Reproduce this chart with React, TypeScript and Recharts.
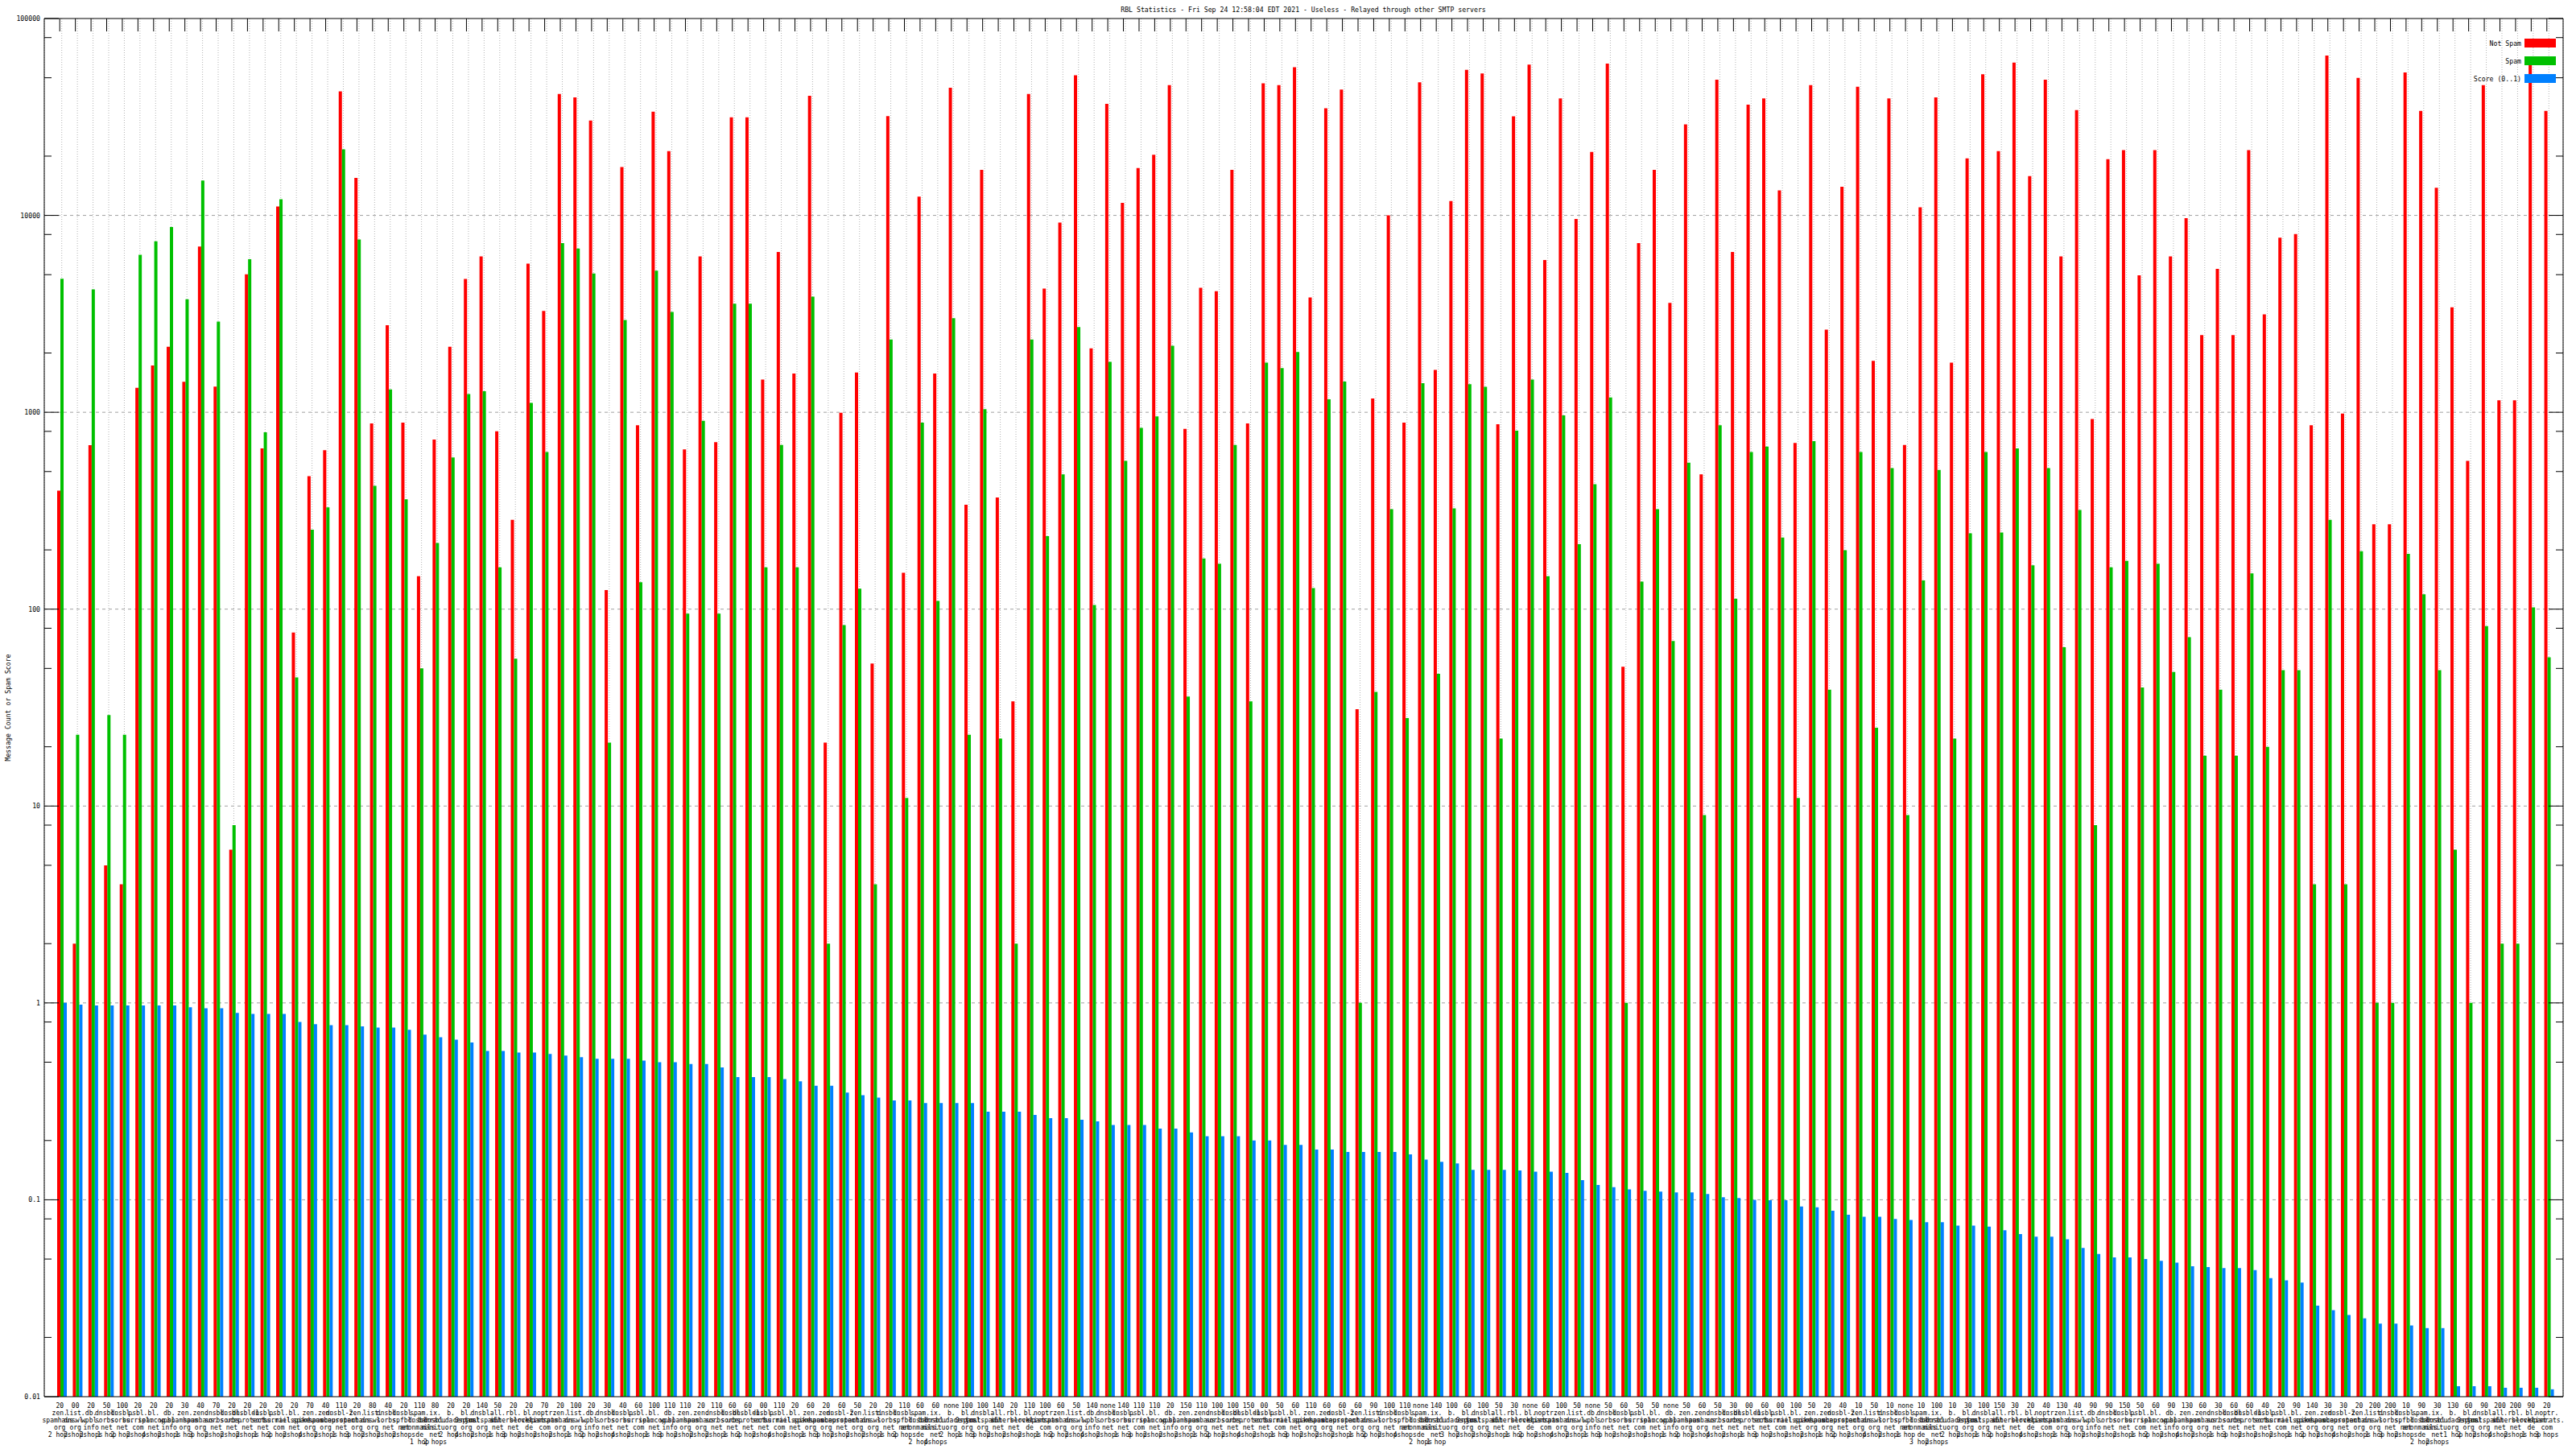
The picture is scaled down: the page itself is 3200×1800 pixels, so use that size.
import React from 'react';
import { BarChart, Bar, XAxis, YAxis, CartesianGrid } from 'recharts';

document.body.style.margin = '0';
document.body.style.overflow = 'hidden';

const FONT = '"DejaVu Sans Mono", "Liberation Mono", monospace';
const TITLE = 'RBL Statistics - Fri Sep 24 12:58:04 EDT 2021 - Useless - Relayed through other SMTP servers';

// message counts per RBL (log scale)
const notSpam = [
  400, 2, 680, 5, 4, 1330, 1730, 2150, 1430, 6940, 1350, 6, 5020, 655, 11100, 76, 474, 642, 42700, 15500,
  878, 2770, 887, 147, 727, 2150, 4760, 6190, 800, 284, 5690, 3270, 41400, 39700, 30300, 125, 17600, 859, 33600, 21200,
  648, 6190, 705, 31500, 31500, 1465, 6520, 1574, 40500, 21, 995, 1592, 53, 31900, 153, 12450, 1574, 44550, 339, 17030,
  369, 34, 41400, 4246, 9204, 51520, 2110, 36870, 11570, 17390, 20330, 45920, 824, 4293, 4118, 17030, 878, 46900, 45920, 56620,
  3828, 35020, 43590, 31, 1175, 10000, 887, 47400, 1642, 11820, 54850, 52600, 869, 31860, 58390, 5930, 39290, 9590, 20990, 59020,
  51, 7230, 17030, 3594, 29000, 484, 48900, 6517, 36500, 39290, 13400, 698, 45920, 2630, 13970, 44980, 1824, 39290, 683, 10990,
  39700, 1786, 19500, 52100, 21220, 59700, 15850, 48900, 6185, 34280, 925, 19300, 21430, 4966, 21430, 6185, 9690, 2468, 5346, 2468,
  21430, 3141, 7709, 8035, 859, 64860, 984, 49900, 270, 270, 53200, 33960, 13830, 3410, 566, 45920, 1151, 1151, 58000, 33960,
];

const spam = [
  4764, 23, 4205, 29, 23, 6316, 7387, 8730, 3748, 15030, 2886, 8, 5997, 791, 12070, 45, 253, 329, 21660, 7550,
  423, 1305, 361, 50, 217, 590, 1239, 1278, 163, 56, 1116, 629, 7230, 6790, 5070, 21, 2946, 137, 5234, 3237,
  95, 906, 95, 3557, 3557, 163, 683, 163, 3866, 2, 83, 127, 4, 2342, 11, 887, 110, 3009, 23, 1038,
  22, 2, 2342, 235, 484, 2711, 105, 1804, 566, 833, 954, 2178, 36, 181, 170, 683, 34, 1786, 1676, 2023,
  128, 1164, 1433, 1, 38, 322, 28, 1404, 47, 325, 1390, 1347, 22, 807, 1465, 147, 964, 214, 431, 1188,
  1, 138, 322, 69, 554, 9, 859, 113, 629, 669, 231, 11, 713, 39, 199, 629, 25, 521, 9, 140,
  510, 22, 243, 629, 245, 655, 167, 521, 64, 319, 8, 163, 176, 40, 170, 48, 72, 18, 39, 18,
  152, 20, 49, 49, 4, 284, 4, 197, 1, 1, 191, 119, 49, 6, 1, 82, 2, 2, 102, 57,
];

const score = [
  1.0, 0.98, 0.97, 0.97, 0.97, 0.97, 0.97, 0.97, 0.95, 0.94, 0.94, 0.89, 0.88, 0.88, 0.88, 0.8, 0.78, 0.77, 0.77, 0.76,
  0.75, 0.75, 0.73, 0.69, 0.67, 0.65, 0.63, 0.57, 0.57, 0.56, 0.56, 0.55, 0.54, 0.53, 0.52, 0.52, 0.52, 0.51, 0.5, 0.5,
  0.49, 0.49, 0.47, 0.42, 0.42, 0.42, 0.41, 0.4, 0.38, 0.38, 0.35, 0.34, 0.33, 0.32, 0.32, 0.31, 0.31, 0.31, 0.31, 0.28,
  0.28, 0.28, 0.27, 0.26, 0.26, 0.255, 0.25, 0.24, 0.24, 0.24, 0.23, 0.23, 0.22, 0.21, 0.21, 0.21, 0.2, 0.2, 0.19, 0.19,
  0.18, 0.18, 0.175, 0.175, 0.175, 0.175, 0.17, 0.16, 0.156, 0.153, 0.142, 0.142, 0.142, 0.141, 0.139, 0.139, 0.137, 0.126, 0.119, 0.116,
  0.113, 0.111, 0.11, 0.109, 0.109, 0.107, 0.103, 0.102, 0.1, 0.0995, 0.0995, 0.0925, 0.0915, 0.088, 0.084, 0.082, 0.082, 0.08, 0.079, 0.077,
  0.077, 0.074, 0.074, 0.073, 0.07, 0.067, 0.065, 0.065, 0.063, 0.057, 0.053, 0.051, 0.051, 0.05, 0.049, 0.048, 0.046, 0.0455, 0.045, 0.045,
  0.044, 0.04, 0.039, 0.038, 0.029, 0.0275, 0.026, 0.025, 0.0235, 0.0235, 0.023, 0.0223, 0.0223, 0.0113, 0.0113, 0.0113, 0.0111, 0.0111, 0.0111, 0.0109,
];

// first line of each x label
const scoreTags = [
  '20', '00', '20', '50', '100', '20', '20', '20', '30', '40', '70', '20', '20', '20', '20', '20', '70', '40', '110', '20',
  '80', '40', '20', '110', '80', '20', '20', '140', '50', '20', '20', '70', '20', '100', '20', '30', '40', '60', '100', '110',
  '110', '20', '110', '60', '60', '00', '110', '20', '60', '20', '60', '50', '20', '20', '110', '60', '60', 'none', '100', '100',
  '140', '20', '110', '100', '60', '50', '140', 'none', '140', '110', '110', '20', '150', '110', '100', '100', '150', '00', '50', '60',
  '110', '60', '60', '60', '90', '100', '110', 'none', '140', '100', '60', '100', '50', '30', 'none', '60', '100', '50', 'none', '50',
  '60', '50', '50', 'none', '50', '60', '50', '30', '00', '60', '00', '100', '50', '20', '40', '10', '50', '10', 'none', '10',
  '100', '10', '30', '100', '150', '30', '20', '40', '130', '40', '90', '90', '150', '50', '60', '90', '130', '60', '30', '60',
  '60', '40', '20', '90', '140', '30', '30', '20', '200', '200', '10', '90', '30', '130', '60', '90', '200', '200', '90', '20',
];

const zonePool = [
  'zen.spamhaus.org', 'list.dnswl.org', 'db.wpbl.info', 'dnsbl.sorbs.net', 'dnsbl.sorbs.net', 'psbl.surriel.com',
  'bl.spamcop.net', 'db.wpbl.info', 'zen.spamhaus.org', 'zen.spamhaus.org', 'dnsbl.sorbs.net', 'dnsbl.sorbs.net',
  'dnsbl-1.uceprotect.net', 'dnsbl.sorbs.net', 'psbl.surriel.com', 'bl.mailspike.net', 'zen.spamhaus.org',
  'zen.spamhaus.org', 'dnsbl-2.uceprotect.net', 'zen.spamhaus.org', 'list.dnswl.org', 'dnsbl.sorbs.net',
  'dnsbl.spfbl.net', 'spam.dnsbl.anonmails.de', 'ix.dnsbl.manitu.net', 'b.barracudacentral.org', 'bl.0spam.org',
  'dnsbl.justspam.org', 'all.s5h.net', 'rbl.interserver.net', 'bl.blocklist.de', 'noptr.spamrats.com',
];
const hopPool = [2, 2, 2, 1, 2, 2, 4, 2, 1, 3];

const majorTicks = [0.01, 0.1, 1, 10, 100, 1000, 10000, 100000];
const minorSteps = [2, 5, 8];
const yTicks = [
  ...majorTicks,
  ...majorTicks.slice(0, -1).flatMap((m) => minorSteps.map((s) => Number((m * s).toPrecision(3)))),
];
const gridValues = [0.1, 1, 10, 100, 1000, 10000];

const data = notSpam.map((v, i) => ({
  name: String(i),
  notSpam: v,
  spam: spam[i],
  score: score[i],
}));

const xPad = { left: 12, right: 8 };

const labelLines = (i: number) => {
  const parts = zonePool[i % zonePool.length].split('.');
  const zoneLines = parts.map((p, k) => (k < parts.length - 1 ? p + '.' : p));
  const h = hopPool[i % hopPool.length];
  return [scoreTags[i], ...zoneLines, h === 1 ? '1 hop' : `${h} hops`];
};

const XTick = ({ x, y, payload }: any) => {
  const i = Number(payload.value);
  const lines = labelLines(i);
  return (
    <g>
      {lines.map((t, k) => (
        <text
          key={k}
          x={x - 2.5}
          y={y + 14 + k * 9}
          textAnchor="middle"
          fontFamily={FONT}
          fontSize={8}
          fill="#000"
        >
          {t}
        </text>
      ))}
    </g>
  );
};

// short inward tick under the top border
const TopTick = ({ x, y }: any) => (
  <line x1={x - 2.5} x2={x - 2.5} y1={y} y2={y + 16} stroke="#000" />
);

const LeftTick = ({ x, y, payload }: any) => {
  const v = payload.value;
  const major = majorTicks.includes(v);
  return (
    <g>
      <line x1={x} x2={x + (major ? 18 : 9)} y1={y} y2={y} stroke="#000" />
      {major && (
        <text x={x - 5} y={y + 3} textAnchor="end" fontFamily={FONT} fontSize={8.2} fill="#000">
          {String(v)}
        </text>
      )}
    </g>
  );
};

const RightTick = ({ x, y, payload }: any) => {
  const major = majorTicks.includes(payload.value);
  return <line x1={x - (major ? 18 : 9)} x2={x} y1={y} y2={y} stroke="#000" />;
};

const legendItems = [
  { label: 'Not Spam', color: '#ff0000' },
  { label: 'Spam', color: '#00c000' },
  { label: 'Score (0..1)', color: '#0080ff' },
];

export default function App() {
  return (
    <div style={{ position: 'relative', width: 3200, height: 1800, background: '#fff' }}>
      <BarChart
        width={3200}
        height={1800}
        data={data}
        margin={{ top: 22, right: 0, bottom: 0, left: 0 }}
        barGap={0}
      >
        <CartesianGrid
          xAxisId="b"
          yAxisId="l"
          vertical={false}
          horizontalValues={gridValues}
          stroke="#a0a0a0"
          strokeDasharray="4 4"
        />
        <CartesianGrid
          xAxisId="b"
          yAxisId="l"
          horizontal={false}
          stroke="#b4b4b4"
          strokeDasharray="1 2"
        />
        <XAxis
          xAxisId="b"
          dataKey="name"
          height={65}
          interval={0}
          padding={xPad}
          tickSize={0}
          tickMargin={0}
          tickLine={false}
          axisLine={{ stroke: '#000' }}
          tick={<XTick />}
        />
        <XAxis
          xAxisId="t"
          dataKey="name"
          orientation="top"
          height={1}
          interval={0}
          padding={xPad}
          tickSize={0}
          tickMargin={0}
          tickLine={false}
          axisLine={{ stroke: '#000' }}
          tick={<TopTick />}
        />
        <YAxis
          yAxisId="l"
          type="number"
          scale="log"
          domain={[0.01, 100000]}
          allowDataOverflow
          ticks={yTicks}
          interval={0}
          width={55}
          tickSize={0}
          tickMargin={0}
          tickLine={false}
          axisLine={{ stroke: '#000' }}
          tick={<LeftTick />}
        />
        <YAxis
          yAxisId="r"
          orientation="right"
          type="number"
          scale="log"
          domain={[0.01, 100000]}
          allowDataOverflow
          ticks={yTicks}
          interval={0}
          width={16}
          tickSize={0}
          tickMargin={0}
          tickLine={false}
          axisLine={{ stroke: '#000' }}
          tick={<RightTick />}
        />
        <Bar dataKey="notSpam" xAxisId="b" yAxisId="l" fill="#ff0000" barSize={4} isAnimationActive={false} />
        <Bar dataKey="spam" xAxisId="b" yAxisId="l" fill="#00c000" barSize={4} isAnimationActive={false} />
        <Bar dataKey="score" xAxisId="b" yAxisId="l" fill="#0080ff" barSize={4} isAnimationActive={false} />
      </BarChart>

      <svg
        width={3200}
        height={1800}
        style={{ position: 'absolute', left: 0, top: 0, pointerEvents: 'none' }}
      >
        <text x={1619} y={15} textAnchor="middle" fontFamily={FONT} fontSize={8.2} fill="#000">
          {TITLE}
        </text>
        <text
          x={13}
          y={879}
          textAnchor="middle"
          fontFamily={FONT}
          fontSize={8.2}
          fill="#000"
          transform="rotate(-90 13 879)"
        >
          Message Count or Spam Score
        </text>
        {legendItems.map((item, k) => (
          <g key={item.label}>
            <text
              x={3132}
              y={56.5 + k * 22}
              textAnchor="end"
              fontFamily={FONT}
              fontSize={8.2}
              fill="#000"
            >
              {item.label}
            </text>
            <rect x={3136} y={48 + k * 22} width={39} height={11} fill={item.color} />
          </g>
        ))}
      </svg>
    </div>
  );
}
